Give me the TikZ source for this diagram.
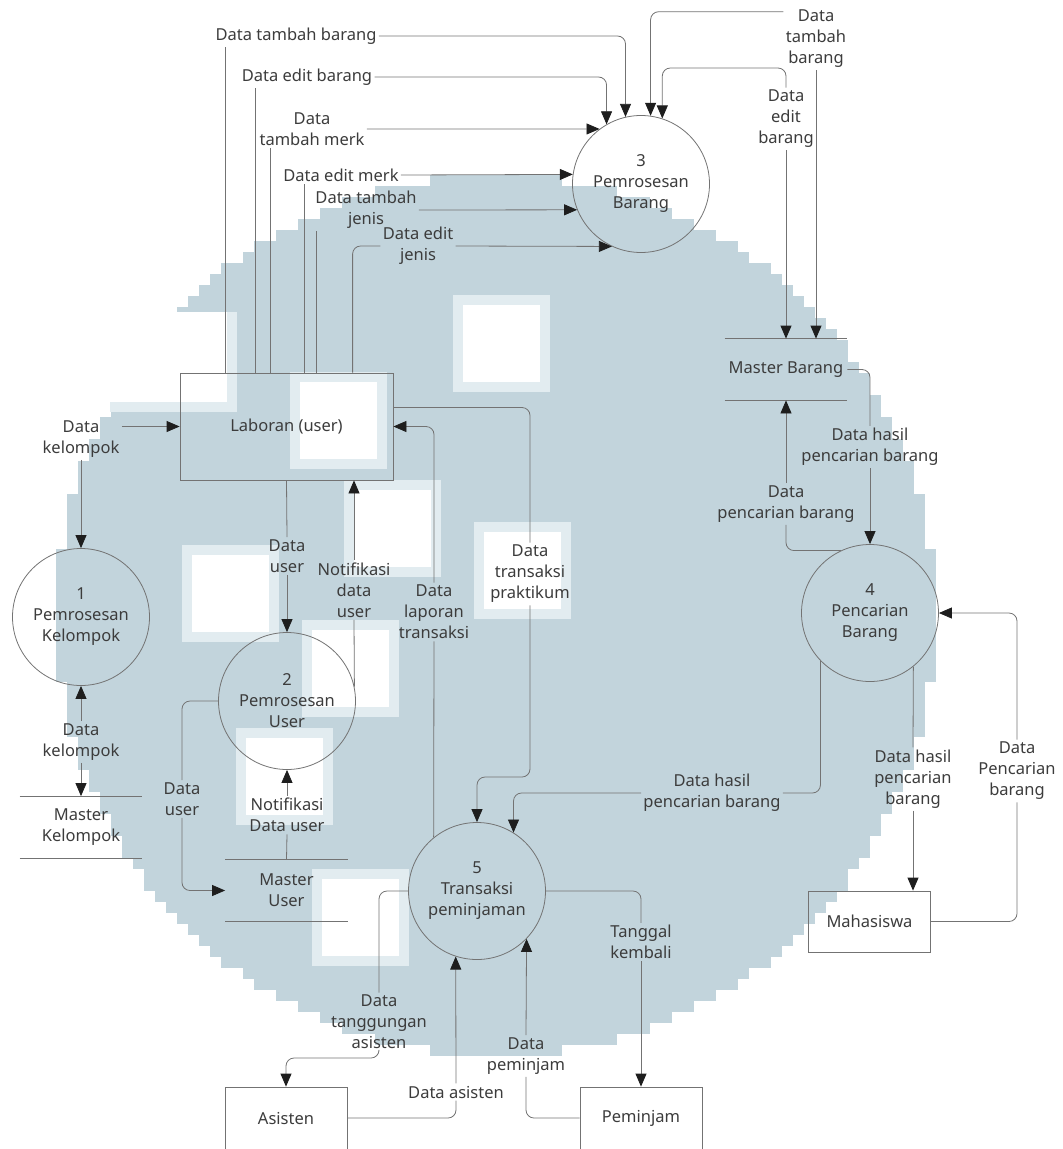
\documentclass[tikz,border=0pt]{standalone}
\usepackage{fontspec}
\setmainfont{Noto Sans}
\usetikzlibrary{arrows.meta}
\definecolor{wm}{RGB}{194,212,220}
\definecolor{wmedge}{RGB}{226,236,240}
\definecolor{ln}{RGB}{115,115,115}
\definecolor{tip}{RGB}{30,30,30}
\definecolor{txt}{RGB}{60,60,60}
\tikzset{
    every node/.style={font=\fontsize{16.5}{21}\selectfont, text=txt},
    proc/.style={circle, draw=ln, minimum size=137pt, inner sep=0pt, align=center},
    ent/.style={rectangle, draw=ln, minimum width=122pt, minimum height=61pt},
    store/.style={minimum width=122pt, minimum height=61pt, align=center},
    lbl/.style={align=center, inner sep=2pt},
    flow/.style={draw=ln, rounded corners=8pt},
    arr/.style={flow, -{Triangle[length=13pt, width=11pt, color=tip]}}
}

\begin{document}
\begin{tikzpicture}[x=1pt, y=-1pt, line width=0.8pt]
    \useasboundingbox (0,0) rectangle (1063,1149);
% Watermark
    \foreach \i [evaluate=\i as \w using {round(sqrt(1600-(\i+0.5)*(\i+0.5)))}] in {-40,...,39}
        \fill[wm] (496-11*\w, 615+11*\i) rectangle (496+11*\w, 626.6+11*\i);
    \foreach \x/\y in {453/295, 290/372, 344/480, 474/522, 182/545, 302/620, 236/728, 312/869} {
        \fill[wmedge] (\x,\y) rectangle ++(97,97);
        \fill[white] (\x+10,\y+10) rectangle ++(77,77);
    }
    \fill[wmedge] (110,312) rectangle (237,412);
    \fill[white] (110,312) rectangle (227,402);
% Processes
    \node[proc] (p1) at (81,617) {1\\Pemrosesan\\Kelompok};
    \node[proc] (p2) at (287,701) {2\\Pemrosesan\\User};
    \node[proc] (p3) at (641,184) {3\\Pemrosesan\\Barang};
    \node[proc] (p4) at (870,613) {4\\Pencarian\\Barang};
    \node[proc] (p5) at (477,891) {5\\Transaksi\\peminjaman};
% Entities
    \node[ent, minimum width=213pt, minimum height=107pt] (lab) at (286.5,426.5) {Laboran (user)};
    \node[ent] (mhs) at (869.5,921.5) {Mahasiswa};
    \node[ent, minimum height=62pt] (ast) at (286,1118) {Asisten};
    \node[ent, minimum height=62pt] (pmj) at (641,1118) {Peminjam};
% Stores
    \node[store] (mk) at (81,827) {Master\\Kelompok};
    \node[store] (mu) at (286.5,890.5) {Master\\User};
    \node[store] (mb) at (786,369.5) {Master Barang};
    \foreach \s in {mk, mu, mb}
        \draw[ln] (\s.north west) -- (\s.north east) (\s.south west) -- (\s.south east);
% Flow labels
    \node[lbl] (f1) at (296,36) {Data tambah barang};
    \node[lbl] (f2) at (307,77) {Data edit barang};
    \node[lbl] (f3) at (312,129) {Data\\tambah merk};
    \node[lbl] (f4) at (341,175) {Data edit merk};
    \node[lbl] (f5) at (366,210) {Data tambah\\jenis};
    \node[lbl] (f6) at (418,246) {Data edit\\jenis};
    \node[lbl] (f7) at (816,39) {Data\\tambah\\barang};
    \node[lbl] (f8) at (786,119) {Data\\edit\\barang};
    \node[lbl] (f9) at (870,447) {Data hasil\\pencarian barang};
    \node[lbl] (f10) at (786,504) {Data\\pencarian barang};
    \node[lbl] (f11) at (1017,771) {Data\\Pencarian\\barang};
    \node[lbl] (f12) at (913,779) {Data hasil\\pencarian\\barang};
    \node[lbl] (f13) at (712,793) {Data hasil\\pencarian barang};
    \node[lbl] (f14) at (530,574) {Data\\transaksi\\praktikum};
    \node[lbl] (f15) at (434,612) {Data\\laporan\\transaksi};
    \node[lbl] (f16) at (354,590) {Notifikasi\\data\\user};
    \node[lbl] (f17) at (287,556) {Data\\user};
    \node[lbl] (f18) at (81,439) {Data\\kelompok};
    \node[lbl] (f19) at (81,742) {Data\\kelompok};
    \node[lbl] (f20) at (182,799) {Data\\user};
    \node[lbl] (f21) at (287,815) {Notifikasi\\Data user};
    \node[lbl] (f22) at (379,1022) {Data\\tanggungan\\asisten};
    \node[lbl] (f23) at (456,1092) {Data asisten};
    \node[lbl] (f24) at (526,1056) {Data\\peminjam};
    \node[lbl] (f25) at (641,942) {Tanggal\\kembali};
% Laboran to Pemrosesan Barang
    \foreach \n/\d in {t1/46, t2/76, t3/91, t4/125, t5/137, t6/173}
        \coordinate (\n) at ([xshift=\d pt]lab.north west);
    \draw[flow] (t1) -- (t1 |- f1.south);
    \draw[arr] (f1.east) -| (p3.103);
    \draw[flow] (t2) -- (t2 |- f2.south);
    \draw[arr] (f2.east) -| (p3.120);
    \draw[flow] (t3) -- (t3 |- f3.south);
    \draw[arr] (f3.east) -- (p3.127);
    \draw[flow] (t4) -- (t4 |- f4.south);
    \draw[arr] (f4.east) -- (p3.172);
    \draw[flow] (t5) -- (t5 |- f5.south);
    \draw[arr] (f5.east) -- (p3.202);
    \draw[flow] (t6) |- (f6.west);
    \draw[arr] (f6.east) -- (p3.245);
% Master Barang and Pemrosesan Barang
    \draw[arr] ([yshift=-4pt]f7.north west) -| (p3.82);
    \draw[arr] (f7.south) -- (f7.south |- mb.north);
    \draw[arr] (f8.north) -- (f8.north |- 0,68) -| (p3.72);
    \draw[arr] (f8.south) -- (mb.north);
% Master Barang and Pencarian Barang
    \draw[flow] (mb.east) -| (f9.north);
    \draw[arr] (f9.south) -- (p4.north);
    \draw[flow] (p4.115) -| (f10.south);
    \draw[arr] (f10.north) -- (mb.south);
% Pencarian Barang and Mahasiswa
    \draw[flow] (p4.-51) -- (f12.north);
    \draw[arr] (f12.south) -- (f12.south |- mhs.north);
    \draw[flow] (mhs.east) -| (f11.south);
    \draw[arr] (f11.north) |- (p4.east);
% Pencarian Barang to Transaksi
    \draw[flow] (p4.-136) |- (f13.east);
    \draw[arr] (f13.west) -| (p5.58);
% Laboran and Transaksi
    \draw[flow] ([yshift=19pt]lab.east) -| (f14.north);
    \draw[arr] (f14.south) -- (f14.south |- 0,777) -| (p5.north);
    \draw[flow] (p5.129) -- (f15.south);
    \draw[arr] (f15.north) |- (lab.east);
% Laboran and Pemrosesan User
    \draw[flow] (lab.south) -- (f17.north);
    \draw[arr] (f17.south) -- (p2.north);
    \draw[flow] (p2.12) -- (f16.south);
    \draw[arr] (f16.north) -- (f16.north |- lab.south);
% Kelompok
    \draw[arr] (f18.east |- lab.west) -- (lab.west);
    \draw[arr] (f18.south) -- (p1.north);
    \draw[arr] (f19.north) -- (p1.south);
    \draw[arr] (f19.south) -- (mk.north);
% Pemrosesan User and Master User
    \draw[flow] (p2.west) -| (f20.north);
    \draw[arr] (f20.south) |- (mu.west);
    \draw[flow] (mu.north) -- (f21.south);
    \draw[arr] (f21.north) -- (p2.south);
% Transaksi, Asisten and Peminjam
    \draw[flow] (p5.west) -| (f22.north);
    \draw[arr] (f22.south) -- (f22.south |- 0,1058) -| (ast.north);
    \draw[flow] (ast.east) -| (f23.south);
    \draw[arr] (f23.north) -- (p5.-108);
    \draw[flow] (pmj.west) -| (f24.south);
    \draw[arr] (f24.north) -- (p5.-44);
    \draw[flow] (p5.east) -| (f25.north);
    \draw[arr] (f25.south) -- (pmj.north);
\end{tikzpicture}
\end{document}
